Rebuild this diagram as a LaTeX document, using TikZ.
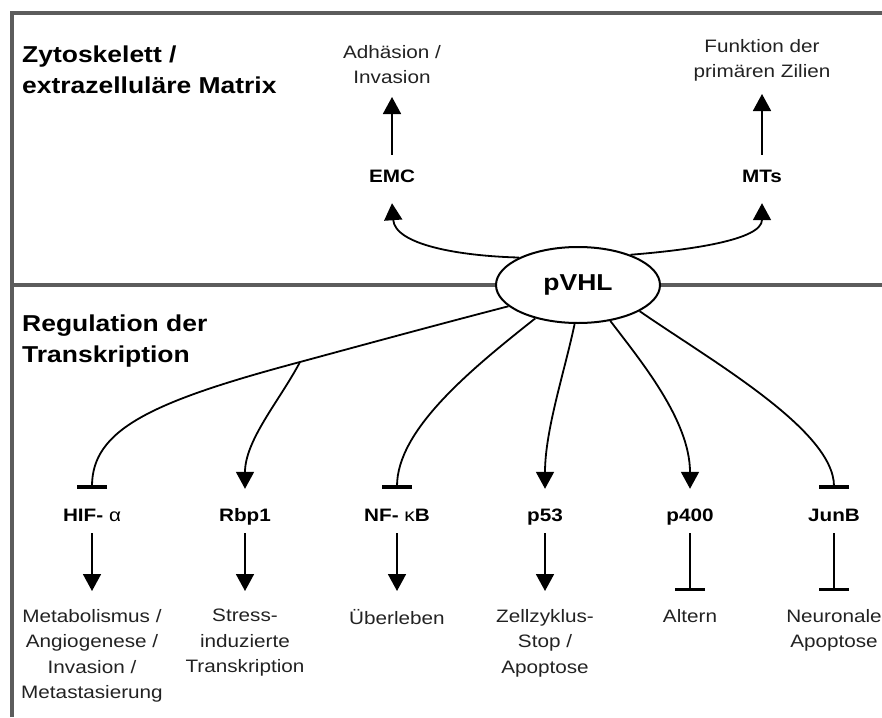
\documentclass[tikz,border=0pt]{standalone}
\usepackage{fontspec}
\setmainfont{Liberation Sans}[FakeStretch=1.15]
\usetikzlibrary{arrows.meta,shapes.geometric}
\definecolor{framegray}{HTML}{5C5C5C}
\definecolor{txt}{HTML}{222222}
\begin{document}
\begin{tikzpicture}[x=1pt,y=-1pt,
 frame/.style={draw=framegray,line width=3.5pt},
 title/.style={font=\fontsize{23}{31}\selectfont\bfseries,align=left,anchor=north west,inner sep=0pt},
 hub/.style={ellipse,draw,line width=2pt,fill=white,minimum width=164pt,minimum height=76pt,inner sep=0pt,font=\fontsize{23}{26}\selectfont\bfseries},
 toplab/.style={font=\fontsize{18}{20}\selectfont\bfseries,inner sep=0pt,text height=27pt,text depth=21pt,anchor=base},
 botlab/.style={font=\fontsize{18}{20}\selectfont\bfseries,inner sep=0pt,text height=32pt,text depth=12pt,anchor=base},
 toptext/.style={font=\fontsize{18}{25}\selectfont,text=txt,align=center,inner sep=0pt,outer ysep=13pt,anchor=south},
 bottext/.style={font=\fontsize{18}{25.5}\selectfont,text=txt,align=center,inner sep=0pt,outer ysep=18pt,anchor=north},
 conn/.style={line width=1.8pt},
 act/.style={conn,-{Triangle[width=18pt,length=17pt]}},
 inh/.style={conn,-{Bar[width=30pt,line width=3.5pt]}}]
\useasboundingbox (0,0) rectangle (882,717);
% frame
\draw[frame] (12,717) -- (12,13) -- (882,13);
\draw[frame] (12,285) -- (882,285);
% titles
\node[title] (t1) at (22,46) {Zytoskelett /\\extrazelluläre Matrix};
\node[title] (t2) at (22,315) {Regulation der\\Transkription};
% hub
\node[hub] (pvhl) at (578,285) {pVHL};
% top part
\node[toplab] (emc) at (392,182) {EMC};
\node[toplab] (mts) at (762,182) {MTs};
\node[toptext] (adh) at (392,97) {Adhäsion /\\Invasion};
\node[toptext] (fkt) at (762,94) {Funktion der\\primären Zilien};
\draw[act] (pvhl.155) .. controls (460,256) and (395,245) .. (emc.south);
\draw[act] (emc.north) -- (adh.south);
\draw[act] (pvhl.30) .. controls (690,250) and (762,240) .. (mts.south);
\draw[act] (mts.north) -- (fkt.south);
% bottom labels
\node[botlab] (hif) at (92,521) {HIF- {\mdseries α}};
\node[botlab] (rbp) at (245,521) {Rbp1};
\node[botlab] (nfkb) at (397,521) {NF- {\mdseries κ}B};
\node[botlab] (p53) at (545,521) {p53};
\node[botlab] (p400) at (690,521) {p400};
\node[botlab] (junb) at (834,521) {JunB};
% bottom texts
\node[bottext] (hift) at (92,591) {Metabolismus /\\Angiogenese /\\Invasion /\\Metastasierung};
\node[bottext] (rbpt) at (245,591) {Stress-\\induzierte\\Transkription};
\node[bottext] (nft) at (397,591) {Überleben};
\node[bottext] (p53t) at (545,591) {Zellzyklus-\\Stop /\\Apoptose};
\node[bottext] (p400t) at (690,591) {Altern};
\node[bottext] (junbt) at (834,591) {Neuronale\\Apoptose};
% connectors from pVHL
\coordinate (split) at (300,362);
\draw[inh] (pvhl.197) .. controls (440,324) and (370,343) .. (split) .. controls (150,402) and (92,430) .. (hif.north);
\draw[act] (split) .. controls (280,400) and (245,440) .. (rbp.north);
\draw[inh] (pvhl.218) .. controls (470,370) and (397,430) .. (nfkb.north);
\draw[act] (pvhl.265) .. controls (565,370) and (545,430) .. (p53.north);
\draw[act] (pvhl.312) .. controls (640,360) and (690,420) .. (p400.north);
\draw[inh] (pvhl.337) .. controls (710,360) and (834,430) .. (junb.north);
% lower connectors
\draw[act] (hif.south) -- (hift.north);
\draw[act] (rbp.south) -- (rbpt.north);
\draw[act] (nfkb.south) -- (nft.north);
\draw[act] (p53.south) -- (p53t.north);
\draw[inh] (p400.south) -- (p400t.north);
\draw[inh] (junb.south) -- (junbt.north);
\end{tikzpicture}
\end{document}
